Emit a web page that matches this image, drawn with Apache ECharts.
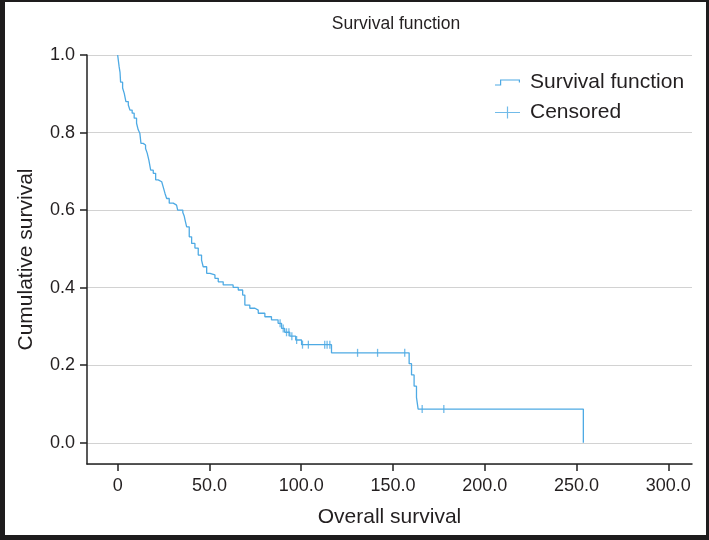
<!DOCTYPE html>
<html>
<head>
<meta charset="utf-8">
<script src="https://cdn.jsdelivr.net/npm/echarts@6/dist/echarts.min.js"></script>
<style>html,body{margin:0;padding:0;background:#fff}#c{width:709px;height:540px}</style>
</head>
<body>
<div id="c"></div>
<script>
// Kaplan-Meier step data (time, cumulative survival after the event at that time)
const eventTimes = [0, 0.4, 0.8, 1.3, 1.6, 2.7, 3.6, 4.5, 5.8, 6.7, 7.9, 9.0, 10.3, 11.2, 12.1,
  12.7, 13.9, 15.2, 16.1, 17.0, 18.0, 19.4, 20.7, 22.1, 24.0, 24.8, 25.8, 26.7, 28.1, 30.3,
  32.1, 32.7, 35.5, 36.3, 36.7, 37.6, 39.0, 40.3, 42.1, 43.9, 45.7, 46.6, 48.5, 50.3, 53.0,
  54.8, 57.5, 62.9, 65.7, 68.1, 69.3, 72.0, 74.8, 76.6, 80.2, 83.8, 87.4, 89.3, 91.0, 93.8,
  97.0, 100.2, 116.5, 158.8, 160.1, 161.5, 162.8, 163.7, 253.7];
const survival = [1.0, 0.985, 0.970, 0.955, 0.930, 0.915, 0.901, 0.880, 0.871, 0.858, 0.850, 0.837, 0.824, 0.807, 0.798,
  0.772, 0.768, 0.759, 0.747, 0.729, 0.703, 0.695, 0.678, 0.673, 0.669, 0.660, 0.643, 0.630, 0.618, 0.613,
  0.609, 0.600, 0.594, 0.584, 0.575, 0.557, 0.531, 0.514, 0.502, 0.484, 0.471, 0.454, 0.437, 0.433, 0.424,
  0.415, 0.407, 0.401, 0.394, 0.381, 0.355, 0.347, 0.342, 0.334, 0.325, 0.317, 0.308, 0.295, 0.285, 0.275,
  0.265, 0.253, 0.232, 0.204, 0.175, 0.146, 0.117, 0.087, 0];
const censoredTimes = [88.5, 90.2, 92.0, 93.3, 94.9, 97.5, 100.7, 103.9, 112.8, 114.1, 115.6,
  130.7, 141.6, 156.4, 165.9, 177.7];

const titleText = 'Survival function';
const xName = 'Overall survival';
const yName = 'Cumulative survival';
const seriesNames = ['Survival function', 'Censored'];

const blue = '#4eaae4';
const textColor = '#231f20';
const font = 'Liberation Sans, Arial, Helvetica, sans-serif';

function survAt(t) {
  let s = 1;
  for (let i = 0; i < eventTimes.length; i++) { if (eventTimes[i] <= t) s = survival[i]; }
  return s;
}
const curveData = eventTimes.map((t, i) => [t, survival[i]]);
const censData = censoredTimes.map(t => [t, survAt(t)]);

const stepIcon = 'path://M0,5 L5,5 L5,0 L25,0 L25,3 L23.8,3 L23.8,1.2 L6.2,1.2 L6.2,6.2 L0,6.2 Z';
const plusIcon = 'path://M0,5.4 L11.9,5.4 L11.9,0 L13.1,0 L13.1,5.4 L25,5.4 L25,6.6 L13.1,6.6 L13.1,12 L11.9,12 L11.9,6.6 L0,6.6 Z';

const chart = echarts.init(document.getElementById('c'), null, {renderer: 'canvas'});
chart.setOption({
  animation: false,
  backgroundColor: '#fff',
  title: {
    text: titleText, left: 391, top: 10, textAlign: 'center',
    textStyle: {fontSize: 17.5, fontWeight: 'normal', color: textColor, fontFamily: font}
  },
  legend: {
    orient: 'vertical', left: 490, top: 67, itemWidth: 25, itemHeight: 12, itemGap: 9,
    symbolKeepAspect: true,
    itemStyle: {borderWidth: 0},
    textStyle: {fontSize: 21, color: textColor, fontFamily: font, padding: [0, 0, 0, 5]},
    data: [{name: seriesNames[0], icon: stepIcon}, {name: seriesNames[1], icon: plusIcon}]
  },
  grid: {left: 87, right: 17, top: 55, bottom: 76, containLabel: false, outerBoundsMode: 'none'},
  xAxis: {
    type: 'value', min: -16.7, max: 312.9, splitNumber: 6,
    name: xName, nameLocation: 'middle', nameGap: 43,
    nameTextStyle: {fontSize: 21, color: textColor, fontFamily: font},
    axisLine: {show: true, onZero: false, lineStyle: {color: '#222', width: 1.5}},
    axisTick: {show: true, length: 7, lineStyle: {color: '#222', width: 1.5}},
    axisLabel: {
      showMinLabel: false, showMaxLabel: false, margin: 13,
      fontSize: 18, color: textColor, fontFamily: font,
      formatter: v => (v === 0 ? '0' : v.toFixed(1))
    },
    splitLine: {show: false}
  },
  yAxis: {
    type: 'value', min: -0.0547, max: 1.0, splitNumber: 5,
    name: yName, nameLocation: 'middle', nameGap: 50, nameRotate: 90,
    nameTextStyle: {fontSize: 21, color: textColor, fontFamily: font},
    axisLine: {show: true, onZero: false, lineStyle: {color: '#222', width: 1.5}},
    axisTick: {show: true, length: 7, lineStyle: {color: '#222', width: 1.5}},
    axisLabel: {
      showMinLabel: false, margin: 12,
      fontSize: 18, color: textColor, fontFamily: font,
      formatter: v => v.toFixed(1)
    },
    splitLine: {show: true, lineStyle: {color: '#d2d2d2', width: 1.2}}
  },
  series: [
    {
      name: seriesNames[0], type: 'line', step: 'end', data: curveData,
      showSymbol: false, symbol: 'none',
      lineStyle: {color: blue, width: 1.3}, itemStyle: {color: blue}
    },
    {
      name: seriesNames[1], type: 'scatter', data: censData,
      symbol: 'path://M0,0 L1,0 L1,10 L0,10 Z', symbolSize: [1.3, 8],
      itemStyle: {color: blue}
    }
  ],
  graphic: [
    {type: 'rect', shape: {x: 0, y: 0, width: 5, height: 540}, style: {fill: '#1e1c1d'}},
    {type: 'rect', shape: {x: 0, y: 0, width: 709, height: 2}, style: {fill: '#1e1c1d'}},
    {type: 'rect', shape: {x: 706, y: 0, width: 3, height: 540}, style: {fill: '#1e1c1d'}},
    {type: 'rect', shape: {x: 0, y: 535, width: 709, height: 5}, style: {fill: '#1e1c1d'}}
  ]
});
</script>
</body>
</html>
